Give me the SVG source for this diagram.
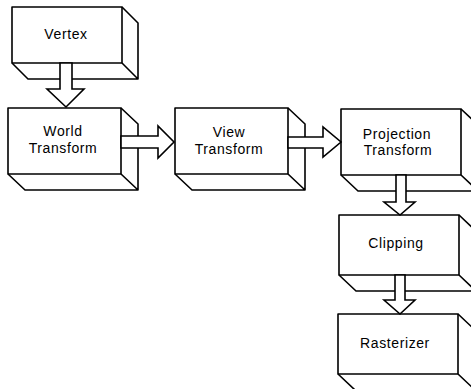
<svg xmlns="http://www.w3.org/2000/svg" width="471" height="389" viewBox="0 0 471 389">
<style>
.f{fill:#fff;stroke:#000;stroke-width:1.6;stroke-linejoin:round}
.d{fill:none;stroke:#000;stroke-width:1.6;stroke-linejoin:round}
.a{fill:#fff;stroke:#000;stroke-width:1.6;stroke-linejoin:miter}
text{font-family:"Liberation Sans",Arial,sans-serif;font-size:14px;letter-spacing:0.6px;text-anchor:middle;fill:#000}
</style>
<rect width="471" height="389" fill="#fff"/>
<g id="vertex">
<rect class="f" x="12" y="7" width="110" height="56"/>
<path class="d" d="M122,7 L138,23 L138,79 L28,79 L12,63 M122,63 L138,79"/>
<text x="66" y="39">Vertex</text>
</g>
<g id="world">
<rect class="f" x="8" y="108" width="113" height="66"/>
<path class="d" d="M121,108 L138,124 L138,190 L25,190 L8,174 M121,174 L138,190"/>
<text x="63" y="136">World</text>
<text x="63" y="153">Transform</text>
</g>
<g id="view">
<rect class="f" x="175" y="108" width="113" height="66"/>
<path class="d" d="M288,108 L305,124 L305,190 L192,190 L175,174 M288,174 L305,190"/>
<text x="229" y="137">View</text>
<text x="229" y="154">Transform</text>
</g>
<g id="projection">
<rect class="f" x="341" y="109" width="120" height="66"/>
<path class="d" d="M461,109 L478,125 L478,191 L358,191 L341,175 M461,175 L478,191"/>
<text x="397" y="139">Projection</text>
<text x="398" y="155">Transform</text>
</g>
<g id="clipping">
<rect class="f" x="339" y="215" width="120" height="60"/>
<path class="d" d="M459,215 L476,231 L476,291 L356,291 L339,275 M459,275 L476,291"/>
<text x="396" y="248">Clipping</text>
</g>
<g id="rasterizer">
<rect class="f" x="338" y="314" width="120" height="60"/>
<path class="d" d="M458,314 L475,330 L475,390 L355,390 L338,374 M458,374 L475,390"/>
<text x="395" y="348">Rasterizer</text>
</g>
<g id="connectors">
<polygon class="a" points="60,63 72,63 72,89 84,89 66,107 47,89 60,89"/>
<polygon class="a" points="121,136 158,136 158,126 174,142 158,158 158,148 121,148"/>
<polygon class="a" points="288,137 323,137 323,127 341,142 323,157 323,148 288,148"/>
<polygon class="a" points="396,175 406,175 406,202 415,202 400,215 384,202 396,202"/>
<polygon class="a" points="395,275 405,275 405,300 415,300 400,314 384,300 395,300"/>
</g>
</svg>
